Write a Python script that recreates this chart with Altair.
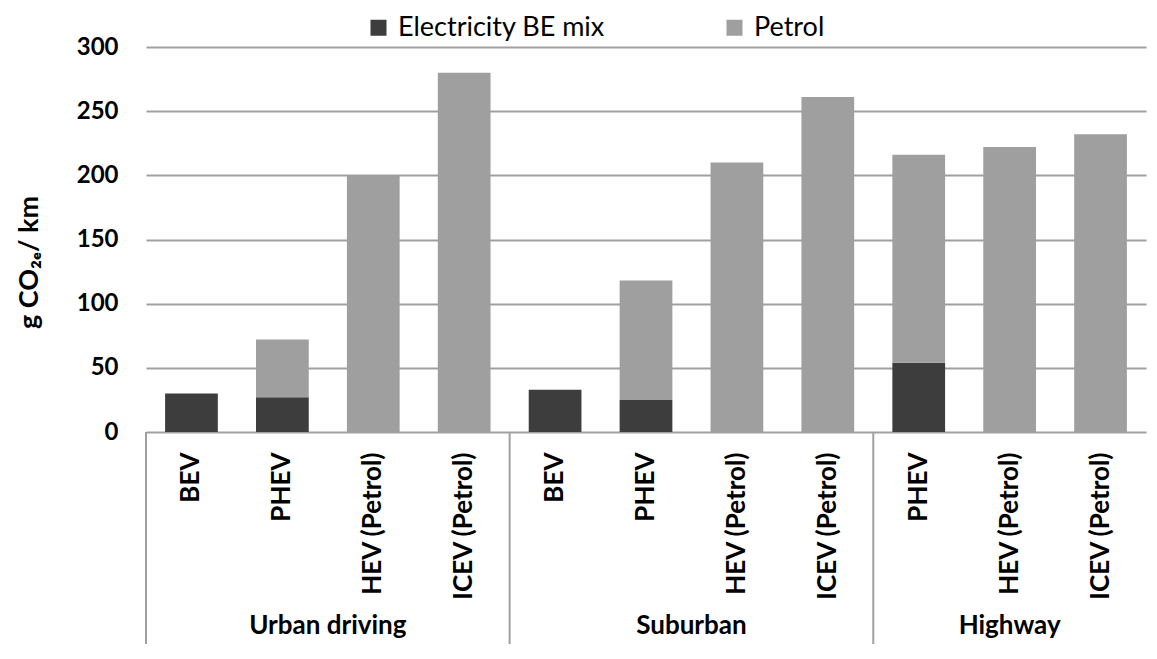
import altair as alt
import pandas as pd

# ---- data ----
groups = ["Urban driving", "Urban driving", "Urban driving", "Urban driving",
          "Suburban", "Suburban", "Suburban", "Suburban",
          "Highway", "Highway", "Highway"]
vehicles = ["BEV", "PHEV", "HEV (Petrol)", "ICEV (Petrol)",
            "BEV", "PHEV", "HEV (Petrol)", "ICEV (Petrol)",
            "PHEV", "HEV (Petrol)", "ICEV (Petrol)"]
electricity = [30, 27, 0, 0, 33, 25, 0, 0, 54, 0, 0]
petrol = [0, 45, 200, 280, 0, 93, 210, 261, 162, 222, 232]
series = ["Electricity BE mix", "Petrol"]
group_names = ["Urban driving", "Suburban", "Highway"]
y_ticks = [0, 50, 100, 150, 200, 250, 300]

# ---- styling ----
FONT = "Lato, DejaVu Sans, sans-serif"
DARK = "#3d3d3d"
LIGHT = "#9f9f9f"
GRID = "#a0a0a0"
W, H = 1000, 385

keys = [f"{g}|{v}" for g, v in zip(groups, vehicles)]
rows = []
for k, g, v, e, p in zip(keys, groups, vehicles, electricity, petrol):
    rows.append(dict(key=k, group=g, vehicle=v, source=series[0], value=e, order=0))
    rows.append(dict(key=k, group=g, vehicle=v, source=series[1], value=p, order=1))
bars_df = pd.DataFrame(rows)

# first key of each group (divider), and group label anchors
first_keys = []
for gname in group_names:
    first_keys.append(next(k for k, g in zip(keys, groups) if g == gname))
div_df = pd.DataFrame({"key": first_keys})

lab_rows = []
for gname in group_names:
    gk = [k for k, g in zip(keys, groups) if g == gname]
    n = len(gk)
    if n % 2 == 0:
        lab_rows.append(dict(label=gname, key=gk[n // 2], bp=0.0))
    else:
        lab_rows.append(dict(label=gname, key=gk[n // 2], bp=0.5))
lab_df = pd.DataFrame(lab_rows)

xscale = alt.Scale(domain=keys, paddingInner=0, paddingOuter=0)
xaxis = alt.Axis(
    title=None, labelAngle=270, labelExpr="split(datum.value, '|')[1]",
    labelFont=FONT, labelFontWeight="bold", labelFontSize=26, labelColor="black",
    labelPadding=20, ticks=False, domain=False, grid=False,
    labelLimit=400, labelOverlap=False,
)


def xenc(bp=0.5):
    return alt.X("key:N", scale=xscale, sort=keys, axis=xaxis, bandPosition=bp)


yscale = alt.Scale(domain=[0, 300], nice=False)
yaxis = alt.Axis(
    values=y_ticks, title="g CO₂ₑ/ km",
    labelFont=FONT, labelFontWeight="bold", labelFontSize=24, labelColor="black",
    labelPadding=28, ticks=False, domain=False,
    grid=True, gridColor=GRID, gridWidth=2,
    titleFont=FONT, titleFontWeight="bold", titleFontSize=27, titleColor="black",
    titleAngle=270, titleX=-117, titleY=215, titleBaseline="middle", titleAlign="center",
)

bars = alt.Chart(bars_df).mark_bar(width=alt.RelativeBandSize(0.58)).encode(
    x=xenc(),
    y=alt.Y("value:Q", stack="zero", scale=yscale, axis=yaxis),
    color=alt.Color(
        "source:N",
        scale=alt.Scale(domain=series, range=[DARK, LIGHT]),
        legend=alt.Legend(
            title=None, orient="none", legendX=219, legendY=-33,
            direction="horizontal", symbolType="square", symbolSize=256,
            symbolStrokeWidth=0, labelFont=FONT, labelFontSize=27,
            labelColor="black", labelOffset=6, columnPadding=116, padding=0,
            labelLimit=400,
        ),
    ),
    order=alt.Order("order:Q"),
)

dividers = alt.Chart(div_df).mark_rule(color=GRID, strokeWidth=2).encode(
    x=xenc(0),
    y=alt.value(H),
    y2=alt.value(H + 240),
)

lab_even = alt.Chart(lab_df).transform_filter("datum.bp == 0").mark_text(
    font=FONT, fontWeight="bold", fontSize=26, color="black", baseline="middle"
).encode(x=xenc(0), y=alt.value(H + 194), text="label:N")

lab_odd = alt.Chart(lab_df).transform_filter("datum.bp == 0.5").mark_text(
    font=FONT, fontWeight="bold", fontSize=26, color="black", baseline="middle"
).encode(x=xenc(0.5), y=alt.value(H + 194), text="label:N")

chart = alt.layer(bars, dividers, lab_even, lab_odd).properties(
    width=W, height=H,
    padding={"left": 138, "top": 39, "right": 3, "bottom": 212},
    autosize=alt.AutoSizeParams(type="none"),
    background="white",
).configure_view(stroke=None)

chart.save("out.html", embed_options={"renderer": "svg", "actions": False})
